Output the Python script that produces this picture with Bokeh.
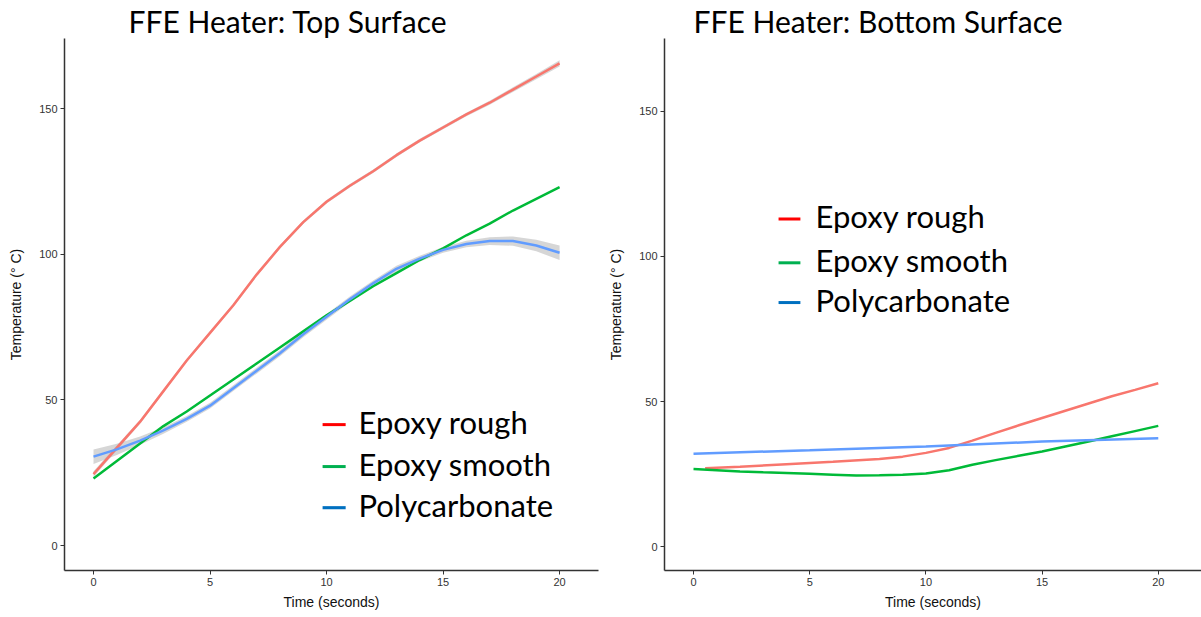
from bokeh.plotting import figure
from bokeh.layouts import row
from bokeh.models import Range1d, FixedTicker, Label
from bokeh.embed import file_html
from bokeh.resources import INLINE

# ---------------- data ----------------
time_s = list(range(21))

top_rough = [24.5, 33.5, 42.5, 53, 63.5, 73, 82.5, 93, 102.5, 111, 118, 123.5, 128.5,
             134, 139, 143.5, 148, 152, 156.5, 161, 165.5]
top_rough_se = [1.0, 0.8, 0.7, 0.6, 0.6, 0.6, 0.6, 0.6, 0.6, 0.6, 0.6, 0.6, 0.6,
                0.6, 0.6, 0.6, 0.6, 0.7, 0.8, 0.9, 1.1]
top_smooth = [23, 29, 35, 41, 46, 51.5, 57, 62.5, 68, 73.5, 79, 84, 89, 93.5,
              98, 102, 106.5, 110.5, 115, 119, 123]
top_poly = [30.5, 33, 36, 39.5, 43.5, 48, 54, 60, 66, 72.5, 78.5, 84.5, 90, 95,
            98.5, 101.5, 103.5, 104.5, 104.5, 103, 100.5]
top_poly_se = [2.5, 1.9, 1.4, 1.1, 1.0, 1.0, 1.0, 1.0, 1.0, 1.0, 1.0, 1.0, 1.0,
               1.0, 1.0, 1.0, 1.1, 1.3, 1.6, 2.0, 2.5]

bot_rough_time = [0.5, 2, 4, 6, 8, 9, 10, 11, 12, 13, 14, 15, 16, 17, 18, 19, 20]
bot_rough = [27, 27.5, 28.4, 29.2, 30.2, 31, 32.3, 34, 36.5, 39.2, 41.8, 44.3,
             46.8, 49.3, 51.8, 54, 56.3]
bot_smooth = [26.7, 26.3, 25.9, 25.6, 25.4, 25.1, 24.8, 24.5, 24.6, 24.8, 25.2,
              26.3, 28.2, 29.8, 31.3, 32.8, 34.5, 36.2, 38, 39.8, 41.6]
bot_poly_time = [0, 5, 10, 15, 20]
bot_poly = [32, 33.2, 34.5, 36.2, 37.3]

series_names = ["Epoxy rough", "Epoxy smooth", "Polycarbonate"]
line_colors = ["#F8766D", "#00BA38", "#619CFF"]
key_colors = ["#FF0000", "#00B050", "#0070C0"]
x_ticks = [0, 5, 10, 15, 20]
y_ticks = [0, 50, 100, 150]

TITLE_FONT = "Lato"
AX_FONT = "Liberation Sans"


def base_fig(width, xr, yr, border_right, title, title_offset):
    p = figure(width=width, height=617, output_backend="svg", toolbar_location=None,
               x_range=Range1d(*xr), y_range=Range1d(*yr),
               min_border_left=64, min_border_right=border_right,
               min_border_top=0, min_border_bottom=47, title=title)
    p.title.text_font = TITLE_FONT
    p.title.text_font_size = "30px"
    p.title.text_font_style = "normal"
    p.title.text_color = "black"
    p.title.align = "left"
    p.title.offset = title_offset
    p.title.standoff = 0
    p.outline_line_color = None
    p.xgrid.visible = False
    p.ygrid.visible = False
    p.background_fill_color = "white"
    p.border_fill_color = "white"
    for ax in (p.xaxis, p.yaxis):
        ax.axis_line_color = "#333333"
        ax.axis_line_width = 1.5
        ax.major_tick_line_color = "#333333"
        ax.major_tick_line_width = 1
        ax.major_tick_out = 4
        ax.major_tick_in = 0
        ax.minor_tick_line_color = None
        ax.major_label_text_font = AX_FONT
        ax.major_label_text_font_size = "11px"
        ax.major_label_text_color = "#333333"
        ax.axis_label_text_font = AX_FONT
        ax.axis_label_text_font_size = "14px"
        ax.axis_label_text_font_style = "normal"
        ax.axis_label_text_color = "#111111"
    p.xaxis.ticker = FixedTicker(ticks=x_ticks)
    p.yaxis.ticker = FixedTicker(ticks=y_ticks)
    p.xaxis.axis_label = "Time (seconds)"
    p.yaxis.axis_label = "Temperature (° C)"
    p.xaxis.major_label_standoff = 3
    p.yaxis.major_label_standoff = 3
    p.xaxis.axis_label_standoff = 5
    p.yaxis.axis_label_standoff = 12
    return p


def add_legend(p, x0, x1, xt, ys, dy):
    for name, col, y in zip(series_names, key_colors, ys):
        p.segment(x0=[x0], x1=[x1], y0=[y], y1=[y], line_color=col, line_width=3)
        p.add_layout(Label(x=xt, y=y + dy, text=name, text_font=TITLE_FONT,
                           text_font_size="31px", text_baseline="middle",
                           text_color="black"))


# ---------------- left: top surface ----------------
p1 = base_fig(600, (-1.245, 21.67), (-8.58, 174.05), 2, "FFE Heater: Top Surface", 64)
lo = [v - s for v, s in zip(top_rough, top_rough_se)]
hi = [v + s for v, s in zip(top_rough, top_rough_se)]
p1.varea(x=time_s, y1=lo, y2=hi, fill_color="#999999", fill_alpha=0.4)
lo = [v - s for v, s in zip(top_poly, top_poly_se)]
hi = [v + s for v, s in zip(top_poly, top_poly_se)]
p1.varea(x=time_s, y1=lo, y2=hi, fill_color="#999999", fill_alpha=0.4)
p1.line(time_s, top_rough, line_color=line_colors[0], line_width=2.5)
p1.line(time_s, top_smooth, line_color=line_colors[1], line_width=2.5)
p1.line(time_s, top_poly, line_color=line_colors[2], line_width=2.5)
add_legend(p1, 9.83, 10.82, 11.37, [41.5, 27.1, 13.0], 0.9)

# ---------------- right: bottom surface ----------------
p2 = base_fig(601, (-1.248, 21.86), (-8.24, 175.1), 0, "FFE Heater: Bottom Surface", 29)
p2.line(bot_rough_time, bot_rough, line_color=line_colors[0], line_width=2.5)
p2.line(time_s, bot_smooth, line_color=line_colors[1], line_width=2.5)
p2.line(bot_poly_time, bot_poly, line_color=line_colors[2], line_width=2.5)
add_legend(p2, 3.66, 4.6, 5.25, [112.9, 97.8, 84.1], 0.9)

layout = row(p1, p2)
open("out.html", "w").write(file_html(layout, INLINE))
